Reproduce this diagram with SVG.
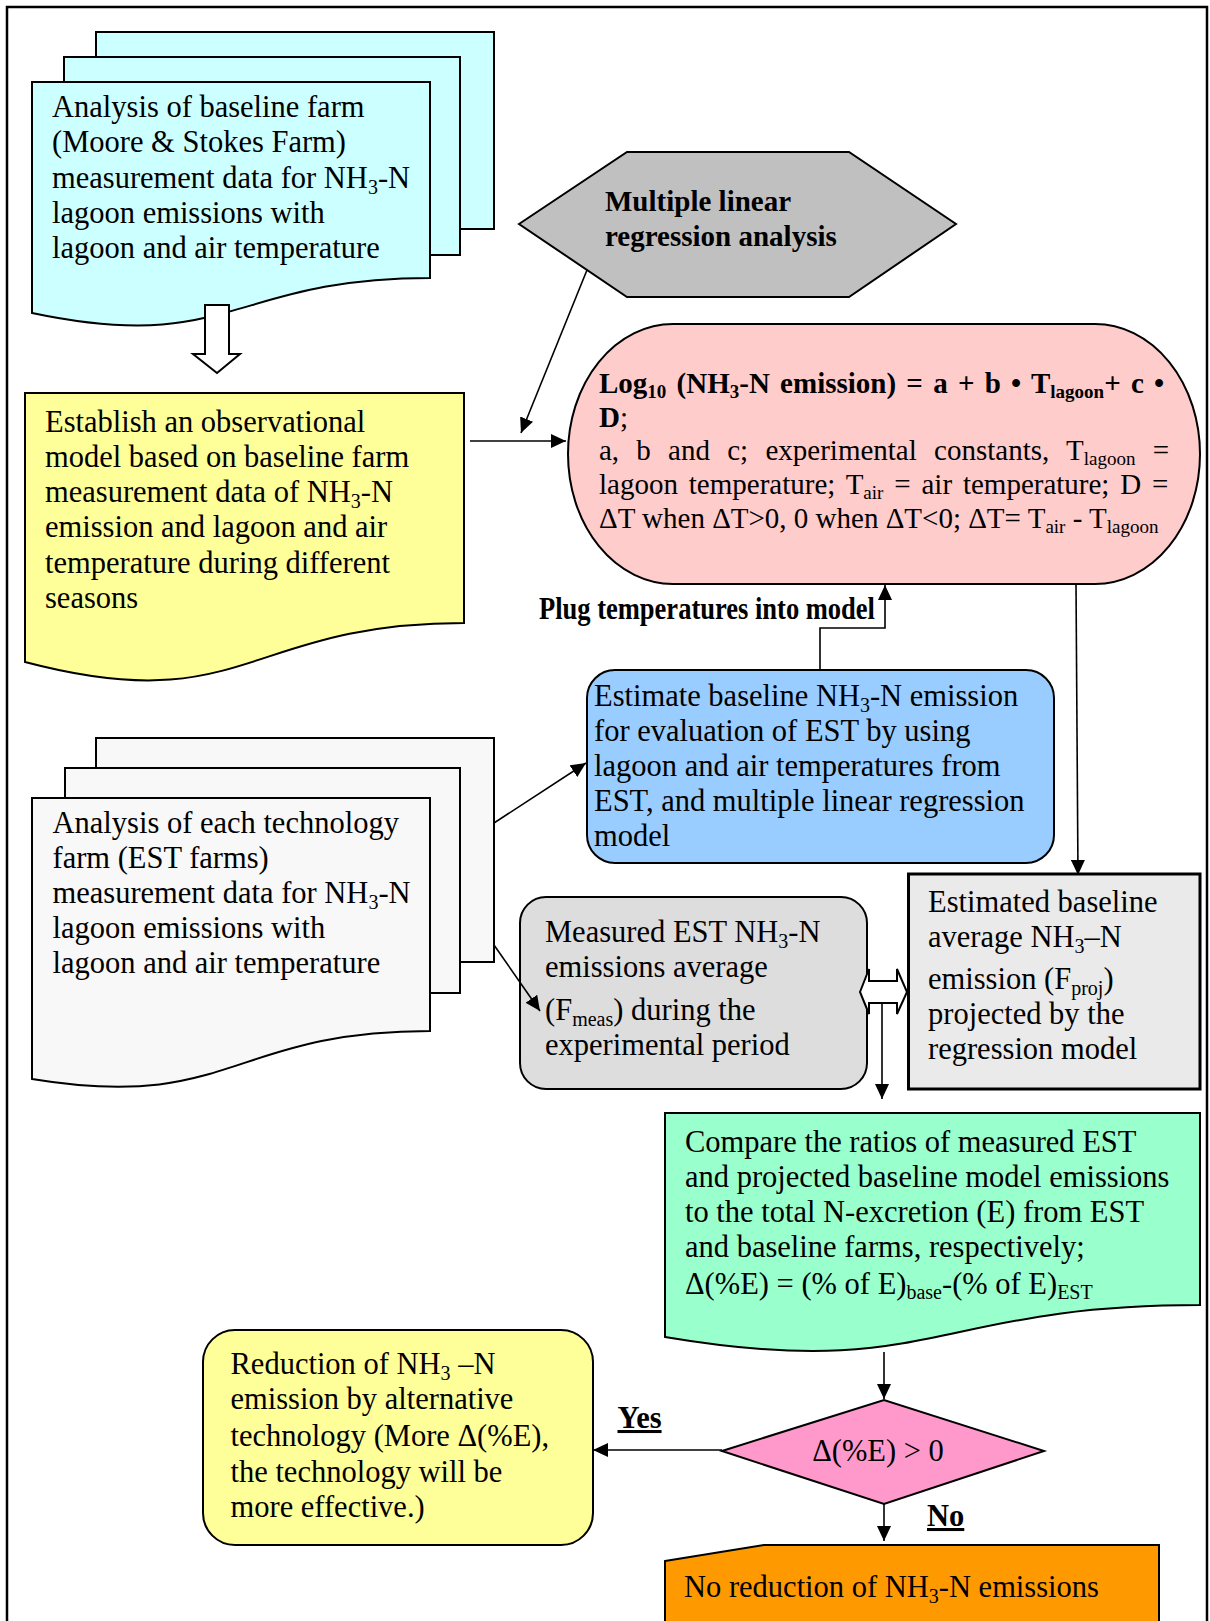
<svg xmlns="http://www.w3.org/2000/svg" width="1210" height="1621" viewBox="0 0 1210 1621">
<style>
.t{font-family:"Liberation Serif","Times New Roman",serif;font-size:30.5px;fill:#000}
.p{font-family:"Liberation Serif","Times New Roman",serif;font-size:29px;fill:#000}
.b{font-weight:bold}
.s{font-size:20px}
.s2{font-size:19px}
.sh{stroke:#000;stroke-width:2;stroke-linejoin:miter}
.ln{fill:none;stroke:#000;stroke-width:1.6}
</style>
<defs>
<marker id="ah" markerUnits="userSpaceOnUse" markerWidth="15" markerHeight="14" refX="15" refY="7" orient="auto"><path d="M0,0 L15,7 L0,14 Z" fill="#000"/></marker>
</defs>
<rect x="0" y="0" width="1210" height="1621" fill="#fff"/>
<rect id="frame" x="7" y="7" width="1200" height="1640" fill="#fff" stroke="#000" stroke-width="2.5"/>

<g id="n-baseline-analysis">
<rect class="sh" x="96" y="32" width="398" height="197" fill="#CCFFFF"/>
<rect class="sh" x="64" y="57" width="396" height="198" fill="#CCFFFF"/>
<path class="sh" d="M32,82 H430 V278 C231,278 231,355 32,313 Z" fill="#CCFFFF"/>
<text class="t" x="52"><tspan x="52" y="117">Analysis of baseline farm</tspan><tspan x="52" y="152">(Moore &amp; Stokes Farm)</tspan><tspan x="52" y="187.5">measurement data for NH<tspan class="s" dy="6">3</tspan><tspan dy="-6">-N</tspan></tspan><tspan x="52" y="222.5">lagoon emissions with</tspan><tspan x="52" y="257.5">lagoon and air temperature</tspan></text>
</g>

<g id="n-regression">
<path class="sh" d="M519,224 L627,152 L849,152 L956,224 L849,297 L627,297 Z" fill="#C0C0C0"/>
<text class="p b" x="605"><tspan x="605" y="211">Multiple linear</tspan><tspan x="605" y="246">regression analysis</tspan></text>
</g>

<g id="n-observational">
<path class="sh" d="M25,393 H464 V623 C245,623 245,720 25,662 Z" fill="#FFFF99"/>
<text class="t" x="45"><tspan x="45" y="432">Establish an observational</tspan><tspan x="45" y="467">model based on baseline farm</tspan><tspan x="45" y="502">measurement data of NH<tspan class="s" dy="6">3</tspan><tspan dy="-6">-N</tspan></tspan><tspan x="45" y="537">emission and lagoon and air</tspan><tspan x="45" y="572.5">temperature during different</tspan><tspan x="45" y="607.5">seasons</tspan></text>
</g>

<g id="n-model">
<rect class="sh" x="568" y="324" width="632" height="260" rx="105" ry="130" fill="#FFCCCC"/>
<text class="p b" x="599" y="393" word-spacing="3">Log<tspan class="s2" dy="5">10</tspan><tspan dy="-5"> (NH</tspan><tspan class="s2" dy="5">3</tspan><tspan dy="-5">-N emission) = a + b • T</tspan><tspan class="s2" dy="5">lagoon</tspan><tspan dy="-5">+ c •</tspan></text>
<text class="p" x="599" y="427"><tspan class="b">D</tspan>;</text>
<text class="p" x="599" y="460" word-spacing="10">a, b and c; experimental constants, T<tspan class="s2" dy="5">lagoon</tspan><tspan dy="-5"> =</tspan></text>
<text class="p" x="599" y="494" word-spacing="3.6">lagoon temperature; T<tspan class="s2" dy="5">air</tspan><tspan dy="-5"> = air temperature; D =</tspan></text>
<text class="p" x="599" y="528">ΔT when ΔT&gt;0, 0 when ΔT&lt;0; ΔT= T<tspan class="s2" dy="5">air</tspan><tspan dy="-5"> - T</tspan><tspan class="s2" dy="5">lagoon</tspan></text>
</g>

<g id="n-estimate">
<rect class="sh" x="587" y="670" width="467" height="193" rx="28" ry="28" fill="#99CCFF"/>
<text class="t" x="594"><tspan x="594" y="706">Estimate baseline NH<tspan class="s" dy="6">3</tspan><tspan dy="-6">-N emission</tspan></tspan><tspan x="594" y="741">for evaluation of EST by using</tspan><tspan x="594" y="776">lagoon and air temperatures from</tspan><tspan x="594" y="811">EST, and multiple linear regression</tspan><tspan x="594" y="846">model</tspan></text>
</g>

<g id="n-technology-analysis">
<rect class="sh" x="96" y="738" width="398" height="224" fill="#F8F8F8"/>
<rect class="sh" x="65" y="768" width="395" height="225" fill="#F8F8F8"/>
<path class="sh" d="M32,798 H430 V1031 C231,1031 231,1112 32,1079 Z" fill="#F8F8F8"/>
<text class="t" x="52.5"><tspan x="52.5" y="832.5">Analysis of each technology</tspan><tspan x="52.5" y="867.5">farm (EST farms)</tspan><tspan x="52.5" y="903">measurement data for NH<tspan class="s" dy="6">3</tspan><tspan dy="-6">-N</tspan></tspan><tspan x="52.5" y="938">lagoon emissions with</tspan><tspan x="52.5" y="973">lagoon and air temperature</tspan></text>
</g>

<g id="n-measured">
<rect class="sh" x="520" y="897" width="347" height="192" rx="26" ry="26" fill="#DDDDDD"/>
<text class="t" x="545"><tspan x="545" y="942">Measured EST NH<tspan class="s" dy="6">3</tspan><tspan dy="-6">-N</tspan></tspan><tspan x="545" y="977">emissions average</tspan><tspan x="545" y="1020">(F<tspan class="s" dy="6">meas</tspan><tspan dy="-6">) during the</tspan></tspan><tspan x="545" y="1055">experimental period</tspan></text>
</g>

<g id="n-projected">
<rect x="908.5" y="874" width="291.5" height="215" fill="#EAEAEA" stroke="#000" stroke-width="3"/>
<text class="t" x="928"><tspan x="928" y="912">Estimated baseline</tspan><tspan x="928" y="947">average NH<tspan class="s" dy="6">3</tspan><tspan dy="-6">–N</tspan></tspan><tspan x="928" y="989">emission (F<tspan class="s" dy="6">proj</tspan><tspan dy="-6">)</tspan></tspan><tspan x="928" y="1024">projected by the</tspan><tspan x="928" y="1059">regression model</tspan></text>
</g>

<g id="n-compare">
<path class="sh" d="M665,1113 H1200 V1305 C932,1305 932,1382 665,1337 Z" fill="#99FFCC"/>
<text class="t" x="685"><tspan x="685" y="1152">Compare the ratios of measured EST</tspan><tspan x="685" y="1187">and projected baseline model emissions</tspan><tspan x="685" y="1222">to the total N-excretion (E) from EST</tspan><tspan x="685" y="1257">and baseline farms, respectively;</tspan><tspan x="685" y="1294">Δ(%E) = (% of E)<tspan class="s" dy="5">base</tspan><tspan dy="-5">-(% of E)</tspan><tspan class="s" dy="5">EST</tspan></tspan></text>
</g>

<g id="n-decision">
<path class="sh" d="M722,1451 L884,1400 L1044,1451 L884,1504 Z" fill="#FF99CC"/>
<text class="t" x="878" y="1461" text-anchor="middle">Δ(%E) &gt; 0</text>
</g>

<g id="n-reduction">
<rect class="sh" x="203" y="1330" width="390" height="215" rx="32" ry="32" fill="#FFFF99"/>
<text class="t" x="230.5"><tspan x="230.5" y="1374">Reduction of NH<tspan class="s" dy="6">3</tspan><tspan dy="-6"> –N</tspan></tspan><tspan x="230.5" y="1409">emission by alternative</tspan><tspan x="230.5" y="1446">technology (More Δ(%E),</tspan><tspan x="230.5" y="1482">the technology will be</tspan><tspan x="230.5" y="1517">more effective.)</tspan></text>
</g>

<g id="n-no-reduction">
<path class="sh" d="M665,1561 L764,1545 H1159 V1640 H665 Z" fill="#FF9900"/>
<text class="t" x="684" y="1597">No reduction of NH<tspan class="s" dy="6">3</tspan><tspan dy="-6">-N emissions</tspan></text>
</g>

<g id="connectors">
<path class="sh" d="M205,305 H229 V354 H240 L217,373 L193,354 H205 Z" fill="#fff" stroke-width="1.6"/>
<path class="ln" d="M470,441 H566" marker-end="url(#ah)"/>
<path class="ln" d="M587,270 L521,433" marker-end="url(#ah)"/>
<path class="ln" d="M820,670 V628 H885 V585" marker-end="url(#ah)"/>
<path class="ln" d="M1076,584 L1078,875" marker-end="url(#ah)"/>
<path class="ln" d="M494,823 L586,763" marker-end="url(#ah)"/>
<path class="ln" d="M494,945 L540,1011" marker-end="url(#ah)"/>
<path class="sh" d="M860,992 L869,969 V981 H897 V969 L907,992 L897,1014 V1003 H869 V1014 Z" fill="#fff" stroke-width="1.6"/>
<path class="ln" d="M882,1003 V1099" marker-end="url(#ah)"/>
<path class="ln" d="M884,1352 V1399" marker-end="url(#ah)"/>
<path class="ln" d="M722,1450 H593" marker-end="url(#ah)"/>
<path class="ln" d="M884,1504 V1541" marker-end="url(#ah)"/>
<text class="t b" x="539" y="619" font-size="26" textLength="336" lengthAdjust="spacingAndGlyphs">Plug temperatures into model</text>
<text class="t b" x="617.5" y="1428" font-size="30" text-decoration="underline">Yes</text>
<text class="t b" x="927" y="1526" font-size="30" text-decoration="underline">No</text>
</g>
</svg>
